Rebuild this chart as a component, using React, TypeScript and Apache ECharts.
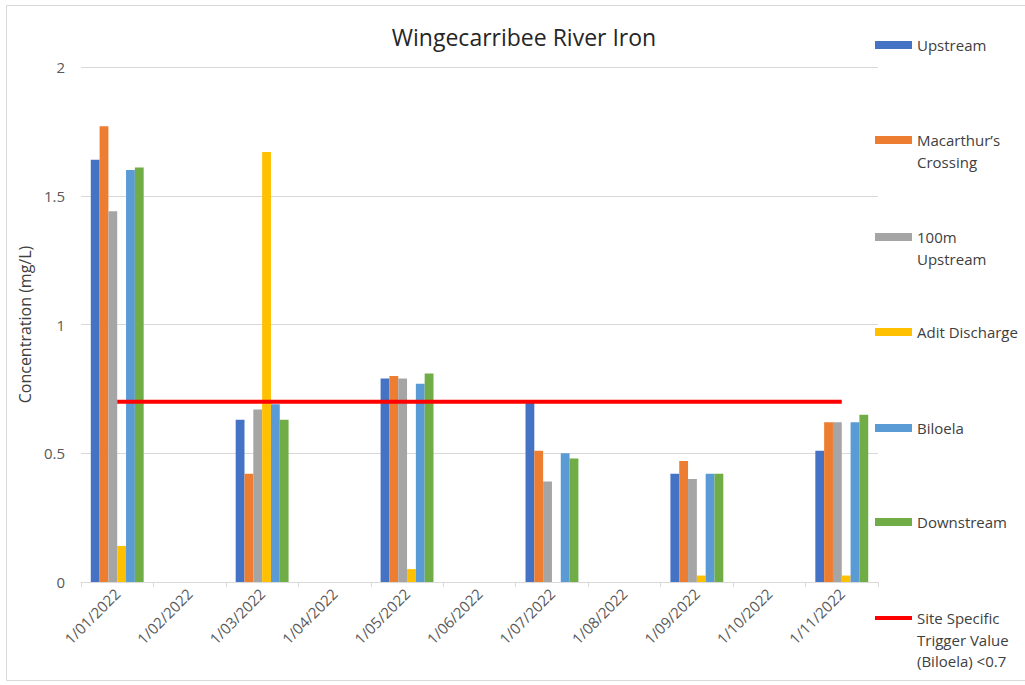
import React, { useEffect, useRef } from "react";
import * as echarts from "echarts";

const categories = ["1/01/2022","1/02/2022","1/03/2022","1/04/2022","1/05/2022","1/06/2022","1/07/2022","1/08/2022","1/09/2022","1/10/2022","1/11/2022"];
const upstream = [1.64, null, 0.63, null, 0.79, null, 0.70, null, 0.42, null, 0.51];
const macarthur = [1.77, null, 0.42, null, 0.80, null, 0.51, null, 0.47, null, 0.62];
const upstream100 = [1.44, null, 0.67, null, 0.79, null, 0.39, null, 0.40, null, 0.62];
const adit = [0.14, null, 1.67, null, 0.05, null, null, null, 0.025, null, 0.025];
const biloela = [1.60, null, 0.69, null, 0.77, null, 0.50, null, 0.42, null, 0.62];
const downstream = [1.61, null, 0.63, null, 0.81, null, 0.48, null, 0.42, null, 0.65];
const trigger = [0.7, 0.7, 0.7, 0.7, 0.7, 0.7, 0.7, 0.7, 0.7, 0.7, 0.7];
const yTicks = [0, 0.5, 1, 1.5, 2];

const barNames = ["Upstream", "Macarthur\u2019s\nCrossing", "100m\nUpstream", "Adit Discharge", "Biloela", "Downstream"];
const barColors = ["#4472C4", "#ED7D31", "#A5A5A5", "#FFC000", "#5B9BD5", "#70AD47"];
const barData = [upstream, macarthur, upstream100, adit, biloela, downstream];
const lineName = "Site Specific\nTrigger Value\n(Biloela) <0.7";

const FONT = "'Open Sans', 'Liberation Sans', sans-serif";

export default function App() {
  const ref = useRef<HTMLDivElement>(null);
  useEffect(() => {
    document.body.style.margin = "0";
    const chart = echarts.init(ref.current!, null, { renderer: "svg" });
    const L = 21.5;
    const legendCenters = [45, 140, 237, 332, 428, 522, 618];
    const allNames = [...barNames, lineName];
    const legends = allNames.map((name, i) => {
      const n = name.split("\n").length;
      const iconH = i === 6 ? 4 : 8;
      const boxH = Math.max((2 * n - 1) * L, iconH);
      return {
        data: [name],
        left: 875,
        top: legendCenters[i] - boxH / 2,
        padding: 0,
        icon: "rect",
        itemWidth: 37,
        itemHeight: iconH,
        selectedMode: false,
        formatter: (nm: string) => "\n".repeat(n - 1) + nm,
        textStyle: {
          fontFamily: FONT,
          fontSize: 15,
          color: "#404040",
          lineHeight: L,
        },
      };
    });
    const series: any[] = barData.map((d, i) => ({
      name: barNames[i],
      type: "bar",
      data: d,
      barGap: "0%",
      barCategoryGap: "27%",
      itemStyle: { color: barColors[i] },
    }));
    series.push({
      name: lineName,
      type: "line",
      data: trigger,
      symbol: "none",
      lineStyle: { color: "#FF0000", width: 4 },
      itemStyle: { color: "#FF0000" },
      z: 5,
    });
    chart.setOption({
      animation: false,
      backgroundColor: "#ffffff",
      title: {
        text: "Wingecarribee River Iron",
        left: 519,
        top: 20,
        textAlign: "center",
        textStyle: { fontFamily: FONT, fontSize: 23, fontWeight: "normal", color: "#262626" },
      },
      graphic: [
        { type: "rect", shape: { x: 6.5, y: 5.5, width: 1030, height: 675 }, style: { fill: "none", stroke: "#d9d9d9", lineWidth: 1 }, silent: true },
      ],
      legend: legends,
      grid: { left: 81, right: 147, top: 67, bottom: 103 },
      xAxis: {
        type: "category",
        data: categories,
        boundaryGap: true,
        axisLine: { lineStyle: { color: "#d9d9d9" } },
        axisTick: { show: true, length: 5, lineStyle: { color: "#d9d9d9" } },
        axisLabel: { rotate: 45, interval: 0, fontFamily: FONT, fontSize: 15, color: "#595959", margin: 9 },
      },
      yAxis: {
        type: "value",
        min: yTicks[0],
        max: yTicks[yTicks.length - 1],
        interval: 0.5,
        name: "Concentration (mg/L)",
        nameLocation: "middle",
        nameGap: 46,
        nameTextStyle: { fontFamily: FONT, fontSize: 16, color: "#404040" },
        axisLine: { show: false },
        axisTick: { show: false },
        splitLine: { lineStyle: { color: "#d9d9d9" } },
        axisLabel: { fontFamily: FONT, fontSize: 15, color: "#595959", margin: 16 },
      },
      series,
    });
    return () => chart.dispose();
  }, []);
  return <div ref={ref} style={{ width: 1025, height: 685 }} />;
}
